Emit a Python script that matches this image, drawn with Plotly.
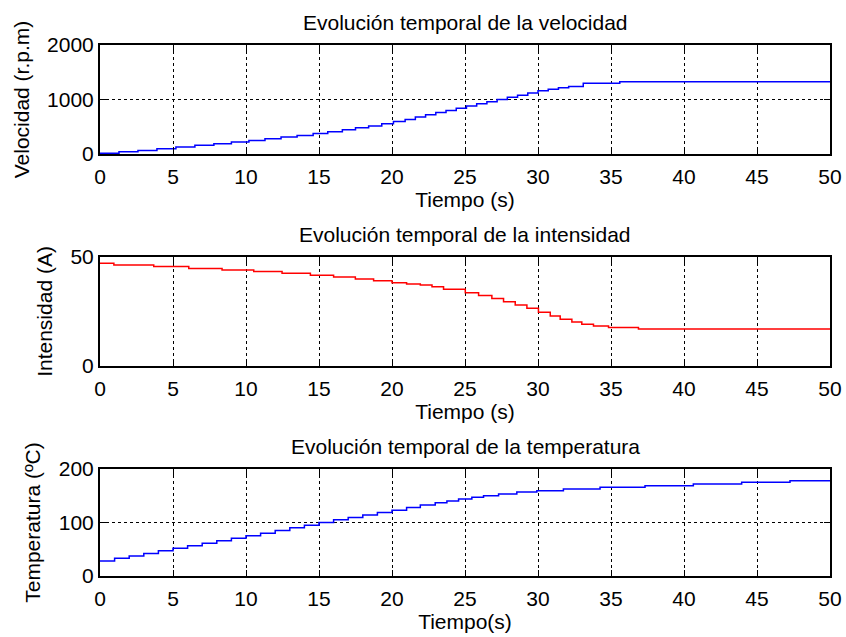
import plotly.graph_objects as go

# ---- data ----
t_vel = [0, 1.3, 2.6, 3.9, 5.2, 6.5, 7.8, 9.0, 10.2, 11.3, 12.4, 13.5, 14.6, 15.6, 16.6,
         17.5, 18.4, 19.3, 20.1, 20.9, 21.6, 22.3, 23.0, 23.7, 24.4, 25.1, 25.8, 26.5,
         27.2, 27.9, 28.6, 29.3, 30.0, 30.7, 31.4, 32.1, 33.1, 35.6, 50]
vel = [15, 40, 65, 95, 130, 160, 190, 220, 250, 280, 310, 340, 375, 410, 445,
       480, 515, 555, 595, 635, 680, 720, 760, 800, 840, 880, 920, 960,
       1000, 1040, 1080, 1120, 1160, 1190, 1215, 1240, 1297, 1325, 1325]

t_int = [0, 0.95, 3.68, 6.08, 8.36, 10.53, 12.47, 14.41, 16.0, 17.49, 18.74, 20.0, 21.0,
         21.94, 22.74, 23.53, 25.02, 25.93, 26.84, 27.64, 28.44, 29.24, 30.03, 30.84,
         31.52, 32.32, 33.0, 33.8, 34.83, 36.88, 50]
intens = [47.1, 46.3, 45.6, 44.7, 44.0, 43.3, 42.5, 41.6, 40.8, 39.9, 39.1, 38.2, 37.6,
          37.2, 36.4, 35.2, 33.6, 32.3, 30.9, 29.5, 28.0, 26.5, 24.6, 22.9,
          21.4, 20.2, 19.1, 18.3, 17.7, 17.0, 17.0]

t_temp = [0, 1, 2, 3, 4, 5, 6, 7, 8, 9, 10, 11, 12, 13, 14, 15, 16, 17, 18, 19, 20, 21,
          21.94, 22.96, 23.76, 24.56, 25.47, 26.27, 27.3, 28.55, 29.92, 31.74, 34.25,
          37.33, 40.64, 43.95, 47.26, 50]
temp = [28, 33, 37.5, 42, 47, 52, 56.5, 61, 66, 70.5, 75, 80, 85, 90, 95, 100, 105, 109.5,
        114, 118.5, 123, 128, 132.7, 137.0, 140.2, 143.9, 147.0, 150.1, 153.3, 157.0,
        159.5, 162.6, 165.8, 168.8, 172.0, 175.1, 178.2, 178.2]

x_ticks = [0, 5, 10, 15, 20, 25, 30, 35, 40, 45, 50]
titles = ["Evolución temporal de la velocidad",
          "Evolución temporal de la intensidad",
          "Evolución temporal de la temperatura"]
y_titles = ["Velocidad (r.p.m)", "Intensidad (A)", "Temperatura (ºC)"]
x_titles = ["Tiempo (s)", "Tiempo (s)", "Tiempo(s)"]
y_ranges = [[0, 2000], [0, 50], [0, 200]]
y_ticks = [[0, 1000, 2000], [0, 50], [0, 100, 200]]

FONT = "Arial, Liberation Sans, sans-serif"
FS = 21

fig = go.Figure()
series = [(t_vel, vel, "#0000ff"), (t_int, intens, "#ff0000"), (t_temp, temp, "#0000ff")]
for i, (tx, ty, col) in enumerate(series):
    sfx = "" if i == 0 else str(i + 1)
    fig.add_trace(go.Scatter(x=tx, y=ty, mode="lines", line=dict(color=col, width=1.5, shape="hv"),
                             xaxis="x" + sfx, yaxis="y" + sfx, showlegend=False))

domains = [[0.7947, 1.0], [0.3955, 0.6008], [0.0, 0.2015]]
axis_common = dict(showline=True, linecolor="black", linewidth=2, mirror="ticks",
                   ticks="inside", ticklen=6, tickcolor="black", tickwidth=1,
                   showgrid=True, gridcolor="black", griddash="dot", gridwidth=1,
                   zeroline=False, automargin=False,
                   tickfont=dict(family=FONT, size=FS, color="black"))

layout = {}
for i in range(3):
    sfx = "" if i == 0 else str(i + 1)
    layout["xaxis" + sfx] = dict(axis_common, domain=[0, 1], range=[0, 50], tickvals=x_ticks,
                                 anchor="y" + sfx, ticklabelstandoff=3,
                                 title=dict(text=x_titles[i], font=dict(family=FONT, size=FS, color="black"),
                                            standoff=2))
    layout["yaxis" + sfx] = dict(axis_common, domain=domains[i], range=y_ranges[i],
                                 tickvals=y_ticks[i], anchor="x" + sfx,
                                 title=dict(text=y_titles[i], font=dict(family=FONT, size=FS, color="black"),
                                            standoff=12))

annotations = []
for i in range(3):
    annotations.append(dict(text=titles[i], x=0.5, y=domains[i][1], xref="paper", yref="paper",
                            xanchor="center", yanchor="bottom", yshift=9, showarrow=False,
                            font=dict(family=FONT, size=FS, color="black")))

fig.update_layout(**layout)
fig.update_layout(width=846, height=637, margin=dict(l=100, r=16, t=45, b=61, autoexpand=False),
                  plot_bgcolor="white", paper_bgcolor="white", annotations=annotations,
                  font=dict(family=FONT, size=FS, color="black"))

fig.write_html("out.html")
